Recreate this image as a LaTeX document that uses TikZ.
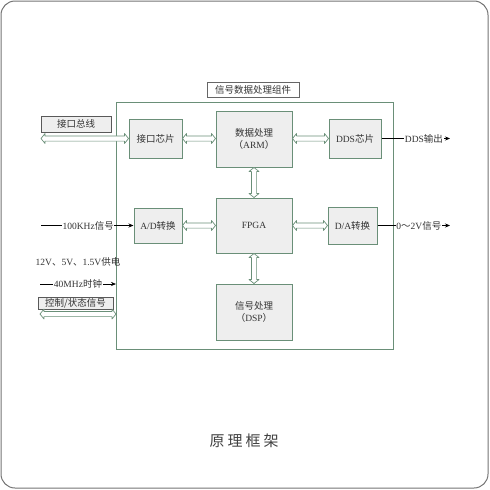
\documentclass[tikz,border=0pt]{standalone}
\usepackage{fontspec}
\setmainfont{Liberation Serif}
\newfontfamily\cjk{Noto Sans CJK SC}
\usetikzlibrary{arrows.meta,shadows,calc}
\definecolor{boxline}{HTML}{6A8F78}
\definecolor{boxfill}{HTML}{EEEEEE}
\definecolor{txt}{HTML}{333333}
\begin{document}
\begin{tikzpicture}[x=1pt,y=-1pt,
  every node/.style={text=txt,font=\fontsize{9.5}{11.5}\selectfont},
  blk/.style={draw=boxline,fill=boxfill,line width=1pt,inner sep=0pt,align=center},
  lbl/.style={draw=black!65,fill=boxfill,line width=0.9pt,inner sep=0pt,
    drop shadow={shadow xshift=1pt,shadow yshift=-1pt,fill=black!45,opacity=1}},
  dbl/.style={draw=boxline,fill=white,line width=0.7pt,line join=round,
    to path={let \p1=($(\tikztostart)!4pt!(\tikztotarget)$),
                 \p2=($(\tikztotarget)!4pt!(\tikztostart)$) in
      (\tikztostart) -- ($(\p1)!5pt!90:(\tikztotarget)$) -- ($(\p1)!2.6pt!90:(\tikztotarget)$)
      -- ($(\p2)!2.6pt!-90:(\tikztostart)$) -- ($(\p2)!5pt!-90:(\tikztostart)$)
      -- (\tikztotarget)
      -- ($(\p2)!5pt!90:(\tikztostart)$) -- ($(\p2)!2.6pt!90:(\tikztostart)$)
      -- ($(\p1)!2.6pt!-90:(\tikztotarget)$) -- ($(\p1)!5pt!-90:(\tikztotarget)$) -- cycle}},
  sig/.style={draw=black,line width=0.6pt,-{Stealth[length=5pt,width=4pt]}},
  tag/.style={fill=white,inner sep=0.6pt}]
\useasboundingbox (0,0) rectangle (490,490);
\draw[draw=black!55,line width=1pt,rounded corners=14pt] (1,1) rectangle (488,488);
% main frame
\node[draw=boxline,line width=1pt,minimum width=277pt,minimum height=247pt,inner sep=0pt] (main) at (254.5,225.5) {};
\node[draw=black!60,line width=0.9pt,fill=white,minimum width=92pt,minimum height=15pt,inner sep=0pt] (title) at (253,89.5) {\cjk 信号数据处理组件};
% blocks
\node[blk,minimum width=53pt,minimum height=39pt] (ifchip) at (155.5,138.5) {\cjk 接口芯片};
\node[blk,minimum width=76pt,minimum height=56pt] (arm) at (254,139) {{\cjk 数据处理}\\{\cjk （}ARM{\cjk ）}};
\node[blk,minimum width=52pt,minimum height=39pt] (dds) at (355,138.5) {DDS{\cjk 芯片}};
\node[blk,minimum width=48pt,minimum height=35pt] (ad) at (158,225.5) {A/D{\cjk 转换}};
\node[blk,minimum width=76pt,minimum height=55pt] (fpga) at (254,225.5) {FPGA};
\node[blk,minimum width=49pt,minimum height=37pt] (da) at (352.5,225.5) {D/A{\cjk 转换}};
\node[blk,minimum width=76pt,minimum height=56pt] (dsp) at (254,312) {{\cjk 信号处理}\\{\cjk （}DSP{\cjk ）}};
% left labels
\node[lbl,minimum width=70pt,minimum height=16pt] (bus) at (76,124) {\cjk 接口总线};
\node[lbl,minimum width=75pt,minimum height=12pt] (ctrl) at (75.5,303) {\cjk 控制/状态信号};
\node (power) at (78,262) {12V{\cjk 、}5V{\cjk 、}1.5V{\cjk 供电}};
% coordinates
\coordinate (busL) at (41,138.5);
\coordinate (ctrlL) at (40,314);
\coordinate (ctrlR) at (116,314);
\coordinate (inL) at (41,225.5);
\coordinate (clkL) at (40,284);
\coordinate (clkR) at (116,284);
\coordinate (ddsR) at (450,138.5);
\coordinate (daR) at (450,225.5);
% double arrows
\draw[dbl] (busL) to (ifchip.west);
\draw[dbl] (ifchip.east) to (ifchip.east -| arm.west);
\draw[dbl] (arm.east |- dds.west) to (dds.west);
\draw[dbl] (arm.south) to (fpga.north);
\draw[dbl] (ad.east) to (ad.east -| fpga.west);
\draw[dbl] (fpga.east) to (da.west);
\draw[dbl] (fpga.south) to (dsp.north);
\draw[dbl] (ctrlL) to (ctrlR);
% signal arrows
\draw[sig] (inL) -- node[tag,pos=0.51] {100KHz{\cjk 信号}} (ad.west);
\draw[sig] (clkL) -- node[tag,pos=0.5] {40MHz{\cjk 时钟}} (clkR);
\draw[sig] (dds.east) -- node[tag,pos=0.62] {DDS{\cjk 输出}} (ddsR);
\draw[sig] (da.east) -- node[tag,pos=0.57] {0{\cjk ～}2V{\cjk 信号}} (daR);
% caption
\node[font=\cjk\fontsize{15}{18}\selectfont,text=black!75] (cap) at (244,441) {\addfontfeature{LetterSpace=20}原理框架};
\end{tikzpicture}
\end{document}
